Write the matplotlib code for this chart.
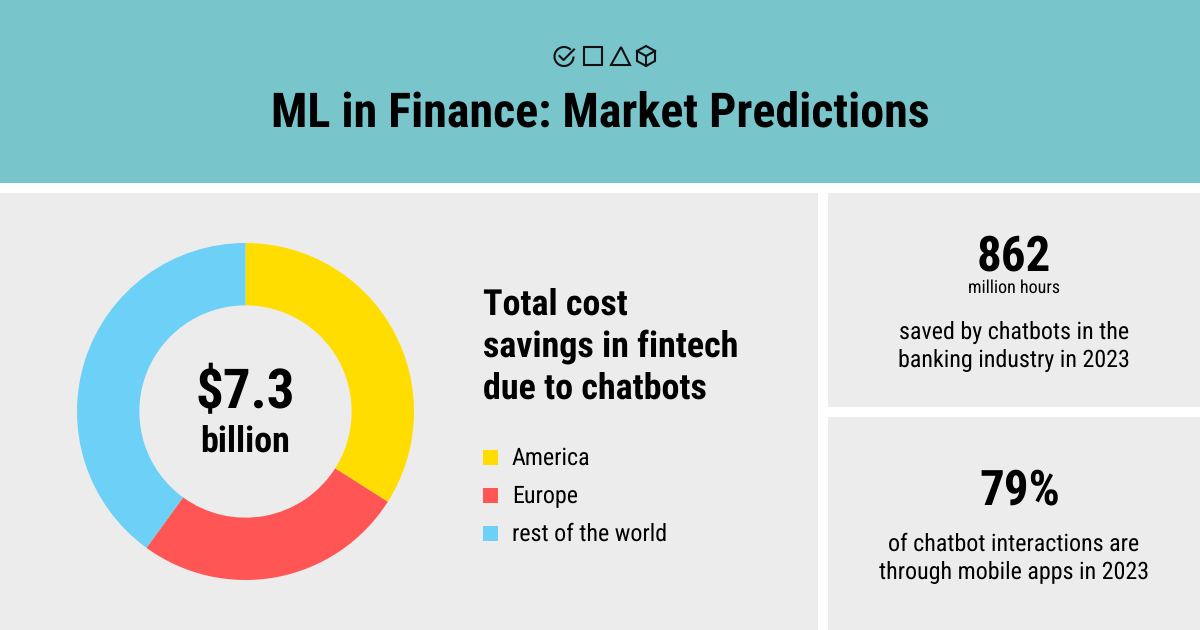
import matplotlib
matplotlib.use("Agg")
import matplotlib.pyplot as plt
from matplotlib.patches import Rectangle, Arc, Polygon

regions = ["America", "Europe", "rest of the world"]
shares = [34, 26, 40]
colors = ["#FFDD00", "#FF5555", "#6DD0F7"]

title = "ML in Finance: Market Predictions"
center_value = "$7.3"
center_unit = "billion"
chart_title = ["Total cost", "savings in fintech", "due to chatbots"]

plt.rcParams["font.family"] = ["Roboto Condensed", "Roboto", "DejaVu Sans"]
plt.rcParams["text.hinting"] = "no_hinting"
plt.rcParams["text.hinting_factor"] = 1

fig = plt.figure(figsize=(12, 6.3), dpi=100, facecolor="white")
ax = fig.add_axes([0, 0, 1, 1])
ax.set_xlim(0, 1200)
ax.set_ylim(630, 0)
ax.axis("off")

# panels
teal = "#78C6CB"
grey = "#ECECEC"
ax.add_patch(Rectangle((0, 0), 1200, 183, color=teal, lw=0))
ax.add_patch(Rectangle((0, 193), 818, 437, color=grey, lw=0))
ax.add_patch(Rectangle((828, 193), 372, 214, color=grey, lw=0))
ax.add_patch(Rectangle((828, 417), 372, 213, color=grey, lw=0))

# little icons above the title
lw = 1.5
ink = "#111111"
ax.add_patch(Arc((564, 56.5), 19, 19, theta1=0, theta2=315, color=ink, lw=lw))
ax.plot([559.5, 563.5, 574], [56, 60, 49.5], color=ink, lw=lw)
ax.add_patch(Rectangle((584, 47), 18, 18, fill=False, ec=ink, lw=lw))
ax.add_patch(Polygon([[621, 47], [630, 65], [611, 65]], fill=False, ec=ink, lw=lw))
ax.add_patch(Polygon([[646, 46], [655, 51], [655, 61], [646, 66], [637, 61], [637, 51]], fill=False, ec=ink, lw=lw))
ax.plot([637, 646, 655], [51, 56, 51], color=ink, lw=lw)
ax.plot([646, 646], [56, 66], color=ink, lw=lw)

ax.text(600, 113, title, fontsize=34.3, fontweight="bold", ha="center", va="center", color="black")

# donut
ax2 = fig.add_axes([(245.5 - 168.5) / 1200, (630 - 411.5 - 168.5) / 630, 337 / 1200, 337 / 630])
ax2.pie(shares, colors=colors, startangle=90, counterclock=False, radius=1,
        wedgeprops=dict(width=0.37, linewidth=0))
ax2.set_xlim(-1, 1)
ax2.set_ylim(-1, 1)

ax.text(245.5, 393.5, center_value, fontsize=39.7, fontweight="bold", ha="center", va="center", color="black", zorder=5)
ax.text(245.5, 441.5, center_unit, fontsize=26.2, fontweight="bold", ha="center", va="center", color="black", zorder=5)

for y, line in zip([304.5, 346.5, 388.5], chart_title):
    ax.text(483, y, line, fontsize=25.6, fontweight="bold", ha="left", va="center", color="black")

# legend
for y, name, c in zip([465, 503, 541], regions, colors):
    ax.add_patch(Rectangle((483, y - 15), 15, 15, color=c, lw=0))
    ax.text(512, y - 0.5, name, fontsize=17.2, ha="left", va="baseline", color="black")

# right side stats
ax.text(1014, 257, "862", fontsize=35.5, fontweight="bold", ha="center", va="center", color="black")
ax.text(1014, 287.5, "million hours", fontsize=13, ha="center", va="center", color="black")
ax.text(1014, 332, "saved by chatbots in the", fontsize=17.3, ha="center", va="center", color="black")
ax.text(1014, 360, "banking industry in 2023", fontsize=17.3, ha="center", va="center", color="black")

ax.text(1020, 491, "79%", fontsize=35, fontweight="bold", ha="center", va="center", color="black")
ax.text(1014, 544, "of chatbot interactions are", fontsize=17.3, ha="center", va="center", color="black")
ax.text(1014, 572, "through mobile apps in 2023", fontsize=17.3, ha="center", va="center", color="black")

fig.savefig("out.png", dpi=100)
